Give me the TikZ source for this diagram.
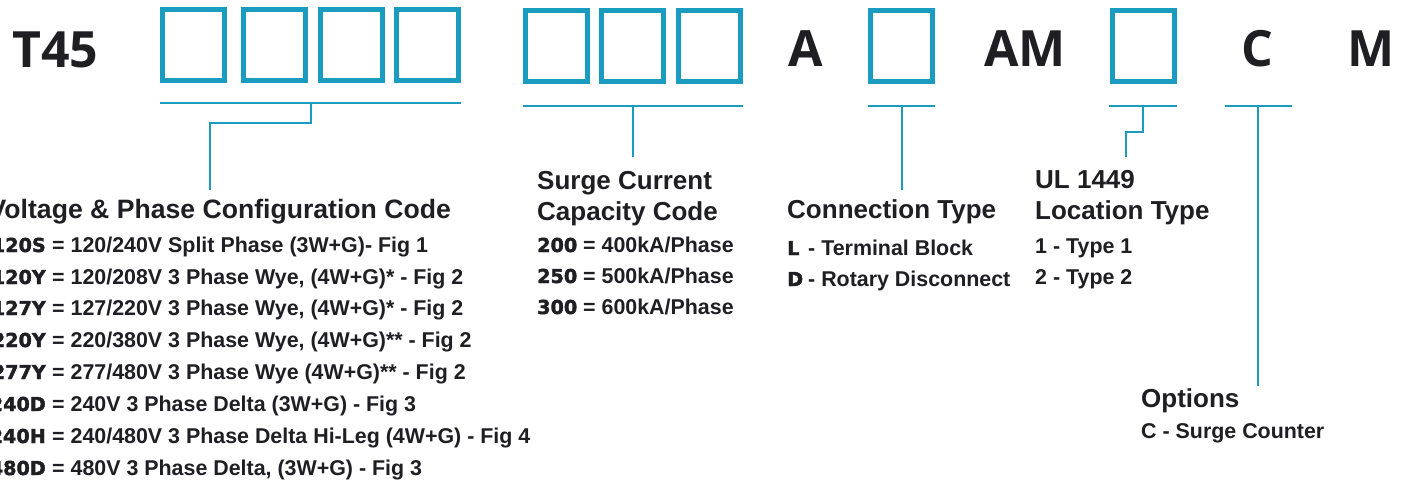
\documentclass[tikz,border=0pt]{standalone}
\usepackage{fontspec}
\setmainfont{Liberation Sans}
\newfontfamily\codefont{DejaVu Sans Bold}[FakeBold=2]
\newfontfamily\bigfont{Open Sans}
\definecolor{brandblue}{RGB}{26,155,192}
\definecolor{ink}{RGB}{30,30,35}
\begin{document}
\begin{tikzpicture}[x=1pt,y=-1pt,
  slot/.style={draw=brandblue,line width=5pt,minimum width=62pt,minimum height=71pt,inner sep=0pt},
  bracket/.style={draw=brandblue,line width=2.6pt},
  big/.style={font=\bigfont\bfseries\fontsize{50}{50}\selectfont,text=ink,inner sep=0pt,anchor=base west},
  head/.style={font=\bfseries\fontsize{26}{26}\selectfont,text=ink,inner sep=0pt,anchor=base west},
  entry/.style={font=\bfseries\fontsize{21.4}{21.4}\selectfont,text=ink,inner sep=0pt,anchor=base west},
  code/.style={font=\codefont\fontsize{19.2}{19.2}\selectfont,text=ink,inner sep=0pt,anchor=base west}]
\useasboundingbox (0,0) rectangle (1405,482);
\clip (0,0) rectangle (1405,482);

% big code letters
\node[big] (t45) at (12,67) {T45};
\node[big] (la) at (788,66) {A};
\node[big] (lam) at (984,66) {AM};
\node[big] (lc) at (1241,66) {C};
\node[big] (lm) at (1347,66) {M};

% slots
\node[slot] (v1) at (193.5,45) {};
\node[slot] (v2) at (274,45) {};
\node[slot] (v3) at (351,45) {};
\node[slot] (v4) at (427.5,45) {};
\node[slot] (s1) at (556.5,46) {};
\node[slot] (s2) at (632.5,46) {};
\node[slot] (s3) at (709.5,46) {};
\node[slot] (ct) at (901.5,46) {};
\node[slot] (ul) at (1143,46) {};

% bracket coordinates
\coordinate (vl) at (160,103); \coordinate (vr) at (461,103);
\coordinate (vm) at (311,103); \coordinate (vk1) at (311,123); \coordinate (vk2) at (210,123); \coordinate (vend) at (210,190);
\coordinate (sl) at (523,106); \coordinate (sr) at (743,106);
\coordinate (sm) at (633,106); \coordinate (send) at (633,157);
\coordinate (cl) at (868,106); \coordinate (cr) at (935,106);
\coordinate (cm) at (902,106); \coordinate (cend) at (902,190);
\coordinate (ull) at (1109,106); \coordinate (ulr) at (1177,106);
\coordinate (ulm) at (1143,106); \coordinate (ulk1) at (1143,132); \coordinate (ulk2) at (1126,132); \coordinate (ulend) at (1126,157);
\coordinate (ol) at (1225,106); \coordinate (or) at (1292,106);
\coordinate (om) at (1258,106); \coordinate (oend) at (1258,386);

\draw[bracket] (vl) -- (vr);
\draw[bracket] (vm) -- (vk1) -- (vk2) -- (vend);
\draw[bracket] (sl) -- (sr);
\draw[bracket] (sm) -- (send);
\draw[bracket] (cl) -- (cr);
\draw[bracket] (cm) -- (cend);
\draw[bracket] (ull) -- (ulr);
\draw[bracket] (ulm) -- (ulk1) -- (ulk2) -- (ulend);
\draw[bracket] (ol) -- (or);
\draw[bracket] (om) -- (oend);

% Voltage & Phase
\node[head,anchor=base east,font=\bfseries\fontsize{26.6}{26.6}\selectfont] (vhead) at (451,218) {Voltage \& Phase Configuration Code};
\node[code,anchor=base east] (vc1) at (46,252) {120S};
\node[entry] (ve1) at (52,252) {= 120/240V Split Phase (3W+G)- Fig 1};
\node[code,anchor=base east] (vc2) at (46,284) {120Y};
\node[entry] (ve2) at (52,284) {= 120/208V 3 Phase Wye, (4W+G)* - Fig 2};
\node[code,anchor=base east] (vc3) at (46,315) {127Y};
\node[entry] (ve3) at (52,315) {= 127/220V 3 Phase Wye, (4W+G)* - Fig 2};
\node[code,anchor=base east] (vc4) at (46,347) {220Y};
\node[entry] (ve4) at (52,347) {= 220/380V 3 Phase Wye, (4W+G)** - Fig 2};
\node[code,anchor=base east] (vc5) at (46,379) {277Y};
\node[entry] (ve5) at (52,379) {= 277/480V 3 Phase Wye (4W+G)** - Fig 2};
\node[code,anchor=base east] (vc6) at (46,411) {240D};
\node[entry] (ve6) at (52,411) {= 240V 3 Phase Delta (3W+G) - Fig 3};
\node[code,anchor=base east] (vc7) at (46,443) {240H};
\node[entry] (ve7) at (52,443) {= 240/480V 3 Phase Delta Hi-Leg (4W+G) - Fig 4};
\node[code,anchor=base east] (vc8) at (46,475) {480D};
\node[entry] (ve8) at (52,475) {= 480V 3 Phase Delta, (3W+G) - Fig 3};

% Surge current
\node[head] (shead1) at (537,189) {Surge Current};
\node[head] (shead2) at (537,220) {Capacity Code};
\node[code] (sc1) at (537,252) {200};
\node[entry] (se1) at (583,252) {= 400kA/Phase};
\node[code] (sc2) at (537,283) {250};
\node[entry] (se2) at (583,283) {= 500kA/Phase};
\node[code] (sc3) at (537,314) {300};
\node[entry] (se3) at (583,314) {= 600kA/Phase};

% Connection type
\node[head] (chead) at (787,218) {Connection Type};
\node[code] (cc1) at (787,255) {L};
\node[entry] (ce1) at (808,255) {- Terminal Block};
\node[code] (cc2) at (787,286) {D};
\node[entry] (ce2) at (808,286) {- Rotary Disconnect};

% UL 1449
\node[head] (uhead1) at (1035,188) {UL 1449};
\node[head] (uhead2) at (1035,219) {Location Type};
\node[entry] (ue1) at (1035,253) {1 - Type 1};
\node[entry] (ue2) at (1035,284) {2 - Type 2};

% Options
\node[head] (ohead) at (1141,407) {Options};
\node[entry] (oe1) at (1141,438) {C - Surge Counter};
\end{tikzpicture}
\end{document}
